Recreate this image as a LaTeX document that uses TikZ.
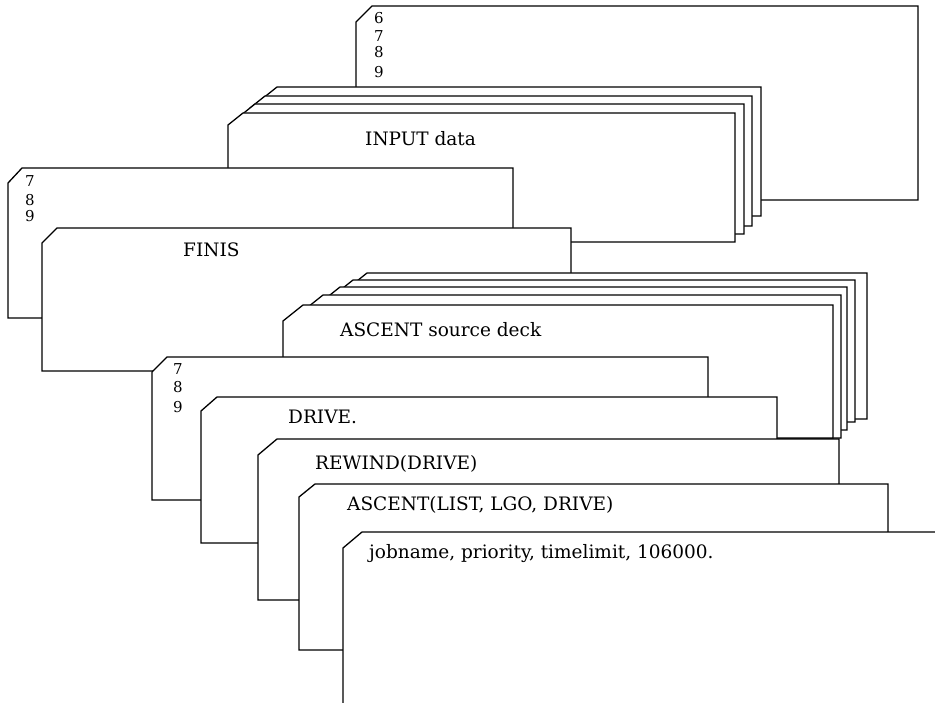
\documentclass[tikz,border=0pt]{standalone}
\usepackage{fontspec}
\setmainfont{DejaVu Serif}
\tikzset{
  cardface/.style={draw=black, fill=white, line width=1.3pt, line join=miter},
  cardtext/.style={font=\fontsize{18.5}{22}\selectfont, anchor=base west, inner sep=0pt},
  rowdigit/.style={font=\fontsize{15}{17}\selectfont, anchor=center, inner sep=0pt},
}
% a punched card with its clipped top-left corner:
% left, top, right, bottom, corner cut width, corner cut height
\newcommand\punchcard[6]{%
  \path[cardface] (#1,{#2+#6}) -- ({#1+#5},#2) -- (#3,#2) -- (#3,#4) -- (#1,#4) -- cycle;
}
\begin{document}
\begin{tikzpicture}[x=1pt, y=-1pt]
\useasboundingbox (0,0) rectangle (935,703);
\clip (0,0) rectangle (935,703);

% 6-7-8-9 end-of-file card
\punchcard{356}{6}{918}{200}{16}{16}
\node[rowdigit] (a6) at (379,18) {6};
\node[rowdigit] (a7) at (379,36) {7};
\node[rowdigit] (a8) at (379,52) {8};
\node[rowdigit] (a9) at (379,72) {9};

% input data deck
\punchcard{262}{87}{761}{216}{15}{12}
\punchcard{250}{96}{752}{226}{15}{12}
\punchcard{240}{104}{744}{234}{15}{12}
\punchcard{228}{113}{735}{242}{15}{12}
\node[cardtext] (input) at (365,146) {INPUT data};

% 7-8-9 separator card
\punchcard{8}{168}{513}{318}{14}{15}
\node[rowdigit] (b7) at (30,181) {7};
\node[rowdigit] (b8) at (30,200) {8};
\node[rowdigit] (b9) at (30,216) {9};

% FINIS card
\punchcard{42}{228}{571}{371}{15}{15}
\node[cardtext] (finis) at (183,257) {FINIS};

% source deck
\punchcard{347}{273}{867}{419}{20}{16}
\punchcard{333}{280}{855}{422}{20}{16}
\punchcard{320}{287}{847}{430}{20}{16}
\punchcard{303}{295}{841}{438}{20}{16}
\punchcard{283}{305}{833}{438}{20}{16}
\node[cardtext] (source) at (340,337) {ASCENT source deck};

% 7-8-9 separator card
\punchcard{152}{357}{708}{500}{15}{15}
\node[rowdigit] (c7) at (178,369) {7};
\node[rowdigit] (c8) at (178,387) {8};
\node[rowdigit] (c9) at (178,407) {9};

% control cards
\punchcard{201}{397}{777}{543}{16}{14}
\node[cardtext] (drive) at (288,424) {DRIVE.};

\punchcard{258}{439}{839}{600}{19}{16}
\node[cardtext] (rewind) at (315,469) {REWIND(DRIVE)};

\punchcard{299}{484}{888}{650}{16}{13}
\node[cardtext] (ascent) at (347,510) {ASCENT(LIST, LGO, DRIVE)};

\punchcard{343}{532}{950}{720}{19}{16}
\node[cardtext] (job) at (369,558) {jobname, priority, timelimit, 106000.};
\end{tikzpicture}
\end{document}
